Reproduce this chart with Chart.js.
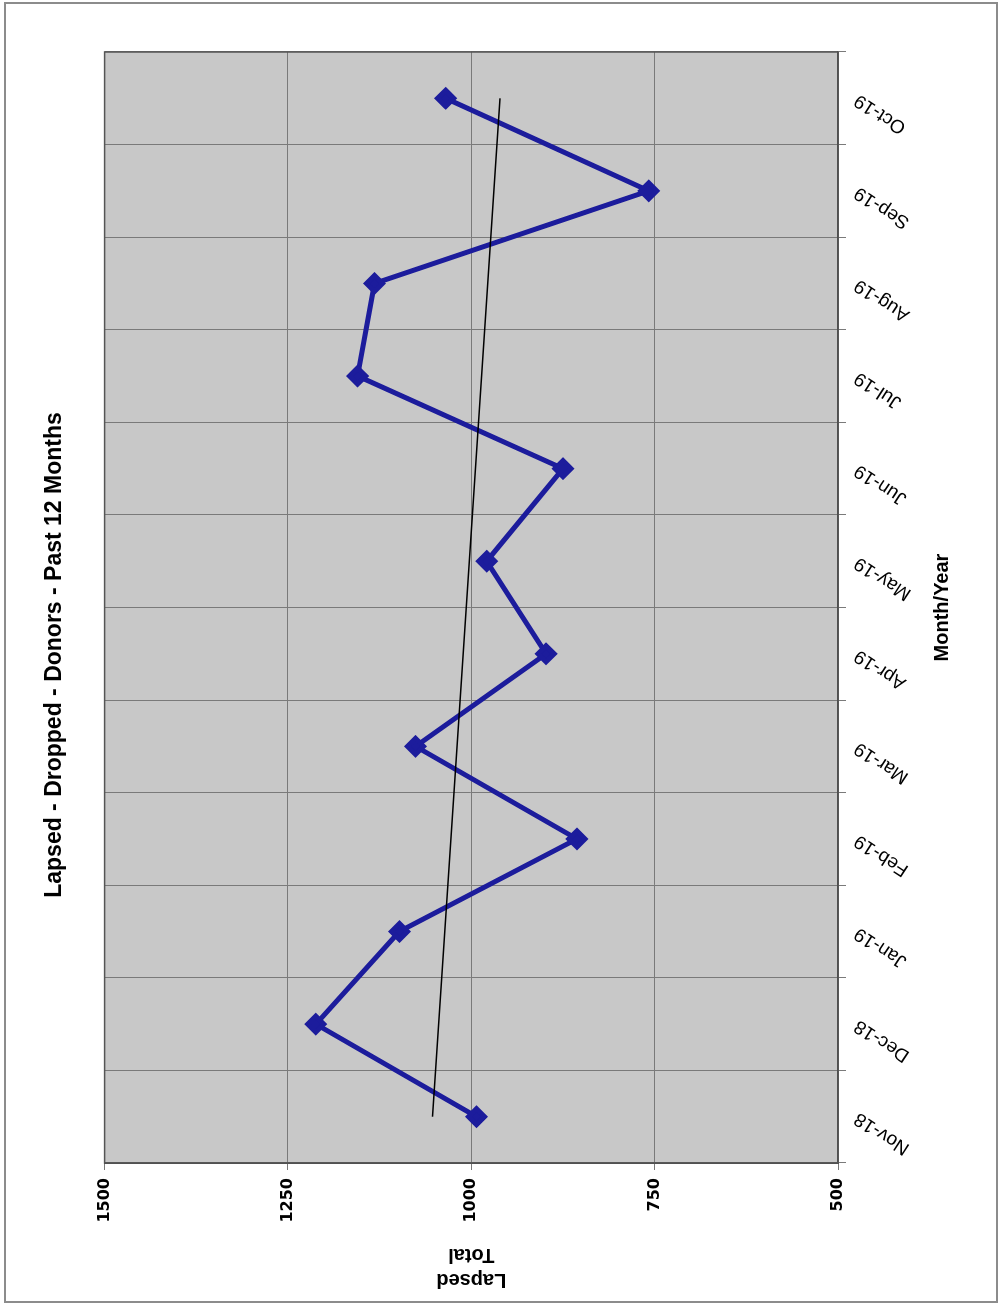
<!DOCTYPE html>
<html lang="en">
<head>
  <meta charset="UTF-8">
  <title>Lapsed - Dropped - Donors - Past 12 Months</title>
  <script src="https://cdn.jsdelivr.net/npm/chart.js@4.4.0/dist/chart.umd.min.js"></script>
  <style>
    body { margin: 0; background: #fff; width: 1002px; height: 1306px; overflow: hidden; position: relative; }
    #frame { position: absolute; left: 4px; top: 2px; width: 994px; height: 1301px; border: 2px solid #8c8c8c; box-sizing: border-box; }
    /* the chart is drawn landscape and turned a quarter turn to the left, like the scan */
    #wrap { position: absolute; left: 0; top: 0; width: 1306px; height: 1002px; transform-origin: 0 0; transform: translate(0, 1306px) rotate(-90deg); }
    canvas { display: block; }
  </style>
</head>
<body>
  <div id="frame"></div>
  <div id="wrap"><canvas id="myChart" width="1306" height="1002"></canvas></div>
  <script>
    const months = ['Nov-18', 'Dec-18', 'Jan-19', 'Feb-19', 'Mar-19', 'Apr-19', 'May-19', 'Jun-19', 'Jul-19', 'Aug-19', 'Sep-19', 'Oct-19'];
    const lapsedTotal = [993, 1212, 1098, 856, 1076, 898, 979, 875, 1155, 1132, 758, 1035];
    // trend line end points
    const trendLine = [1053, null, null, null, null, null, null, null, null, null, null, 961];
    const valueTicks = [500, 750, 1000, 1250, 1500];

    Chart.defaults.font.family = "'Liberation Sans', Arial, sans-serif";
    Chart.defaults.color = '#000';

    const gridGrey = '#7a7a7a';

    // grey plot area with a frame round it
    const plotArea = {
      id: 'plotArea',
      beforeDraw(chart) {
        const { ctx, chartArea: a } = chart;
        ctx.save();
        ctx.fillStyle = '#c8c8c8';
        ctx.fillRect(a.left, a.top, a.right - a.left, a.bottom - a.top);
        ctx.restore();
      },
      beforeDatasetsDraw(chart) {
        const { ctx, chartArea: a } = chart;
        ctx.save();
        ctx.strokeStyle = '#555';
        ctx.lineWidth = 1.5;
        ctx.strokeRect(a.left, a.top, a.right - a.left, a.bottom - a.top);
        ctx.restore();
      }
    };

    const ctx = document.getElementById('myChart').getContext('2d');
    const myChart = new Chart(ctx, {
      type: 'line',
      data: {
        labels: months,
        datasets: [{
          label: 'Trend',
          data: trendLine,
          spanGaps: true,
          borderColor: '#000',
          borderWidth: 1.5,
          pointRadius: 0,
          order: 0
        }, {
          label: 'Lapsed Total',
          data: lapsedTotal,
          borderColor: '#1c1c9c',
          backgroundColor: '#1c1c9c',
          borderWidth: 5,
          pointStyle: 'rectRot',
          pointRadius: 8,
          tension: 0,
          order: 1
        }]
      },
      options: {
        responsive: false,
        devicePixelRatio: 1,
        animation: false,
        layout: { padding: { left: 0, right: 4, top: 0, bottom: 0 } },
        plugins: {
          legend: { display: false },
          tooltip: { enabled: false },
          title: {
            display: true,
            text: 'Lapsed - Dropped - Donors - Past 12 Months',
            font: { size: 23, weight: 'bold', lineHeight: 1.2 },
            color: '#000',
            padding: { top: 41, bottom: 36 }
          }
        },
        scales: {
          x: {
            offset: true,
            grid: { offset: true, color: gridGrey, tickLength: 8, tickColor: gridGrey },
            border: { display: true, color: '#444', width: 1.5 },
            ticks: {
              minRotation: 57,
              maxRotation: 57,
              autoSkip: false,
              padding: 4,
              font: { size: 19 }
            },
            title: {
              display: true,
              text: 'Month/Year',
              font: { size: 20, weight: 'bold', lineHeight: 1.2 },
              padding: { top: 0, bottom: 48 }
            },
            afterFit(scale) { scale.height = 164; }
          },
          y: {
            min: 500,
            max: 1500,
            afterBuildTicks(scale) { scale.ticks = valueTicks.map(v => ({ value: v })); },
            grid: { color: gridGrey, tickLength: 7, tickColor: gridGrey },
            border: { display: true, color: '#444', width: 1.5 },
            ticks: {
              padding: 8,
              callback: v => String(v),
              font: { family: "'DejaVu Sans', sans-serif", size: 16, weight: 'bold' }
            },
            title: {
              display: true,
              text: ['Lapsed', 'Total'],
              font: { size: 20, weight: 'bold', lineHeight: 1.25 },
              padding: { top: 14, bottom: 0 }
            },
            afterFit(scale) { scale.width = 143; }
          },
          // empty strip on the far side of the plot so the title stays centred on the page
          yRight: {
            position: 'right',
            grid: { display: false },
            border: { display: false },
            ticks: { display: false },
            afterFit(scale) { scale.width = 48; }
          }
        }
      },
      plugins: [plotArea]
    });
  </script>
</body>
</html>
